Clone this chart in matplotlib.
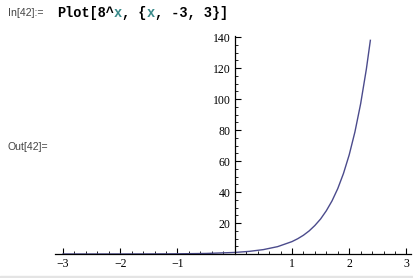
import matplotlib
matplotlib.use('Agg')
import matplotlib.pyplot as plt
from matplotlib.patches import Rectangle
from matplotlib.ticker import MultipleLocator

# points (Plot[8^x, {x, -3, 3}], clipped near 140)
x_vals = [-3, -2.5, -2, -1.5, -1, -0.5, 0, 0.25, 0.5, 0.75, 1.0, 1.1, 1.2, 1.3,
          1.4, 1.5, 1.6, 1.7, 1.8, 1.9, 2.0, 2.1, 2.2, 2.3, 2.37]
y_vals = [0.002, 0.006, 0.016, 0.044, 0.125, 0.35, 1.0, 1.68, 2.83, 4.76, 8.0,
          9.85, 12.1, 14.9, 18.4, 22.6, 27.9, 34.3, 42.2, 52.0, 64.0, 78.8,
          97.0, 119.4, 138.0]
x_ticks = [-3, -2, -1, 1, 2, 3]
y_ticks = [20, 40, 60, 80, 100, 120, 140]

W, H = 413, 278
fig = plt.figure(figsize=(W / 100, H / 100), dpi=100)
fig.patch.set_facecolor('white')

# grey strip at the bottom of the notebook cell
fig.patches.append(Rectangle((0, 0), 1, 2.5 / H, transform=fig.transFigure,
                             color='#e4e4e4', zorder=0))

# input line
fig.text(8 / W, 1 - 13 / H, 'In[42]:=', fontsize=7.6, color='#444444',
         family='Liberation Sans', va='center')
cw = 8.15  # monospace char width in px
x0 = 57
pieces = [('Plot[8^', 'black', 0), ('x', '#3a8a8a', 7), (', {', 'black', 8),
          ('x', '#3a8a8a', 11), (', -3, 3}]', 'black', 12)]
for txt, col, idx in pieces:
    fig.text((x0 + idx * cw) / W, 1 - 13 / H, txt, fontsize=9.8, color=col,
             family='Liberation Mono', weight='bold', va='center')

fig.text(7 / W, 1 - 147 / H, 'Out[42]=', fontsize=7.6, color='#444444',
         family='Liberation Sans', va='center')

ax = fig.add_axes([55 / W, 24 / H, 356 / W, 218 / H])
ax.plot(x_vals, y_vals, color='#4b4b8c', lw=1.0)
ax.set_xlim(-3.14, 3.08)
ax.set_ylim(0, 140.8)

for s in ['top', 'right']:
    ax.spines[s].set_visible(False)
ax.spines['left'].set_position(('data', 0))
ax.spines['bottom'].set_position(('data', 0))
ax.spines['left'].set_linewidth(0.9)
ax.spines['bottom'].set_linewidth(0.9)

ax.set_xticks(x_ticks)
ax.set_xticklabels(['\u22123', '\u22122', '\u22121', '1', '2', '3'])
ax.set_yticks(y_ticks)
ax.xaxis.set_minor_locator(MultipleLocator(0.2))
ax.yaxis.set_minor_locator(MultipleLocator(5))
ax.tick_params(which='major', direction='in', length=4, width=0.8,
               labelsize=8.5, pad=3)
ax.tick_params(which='minor', direction='in', length=2.2, width=0.6)
for lab in ax.get_xticklabels() + ax.get_yticklabels():
    lab.set_family('Liberation Serif')

fig.savefig('out.png', dpi=100)
